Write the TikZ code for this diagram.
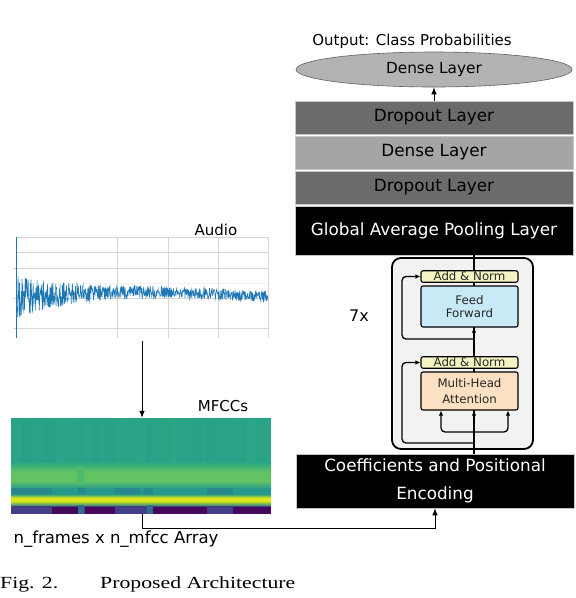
\documentclass[tikz,border=0pt]{standalone}
\usepackage{fontspec}
\setmainfont{DejaVu Sans}
\newfontfamily\tmsfont[FakeStretch=1.28]{Liberation Serif}
\usetikzlibrary{arrows.meta,shapes.geometric,calc}
\definecolor{dropc}{HTML}{6B6B6B}
\definecolor{densec}{HTML}{A5A5A5}
\definecolor{ellc}{HTML}{B3B3B3}
\definecolor{blkc}{HTML}{F2F2F2}
\definecolor{anc}{HTML}{F4F4C2}
\definecolor{ffc}{HTML}{C8E9F6}
\definecolor{mhac}{HTML}{FBE0C2}
\definecolor{gridc}{HTML}{D6D6D6}
\definecolor{sigc}{HTML}{1F77B4}
\definecolor{vA}{HTML}{46085C}
\definecolor{vB}{HTML}{433E85}
\definecolor{vC}{HTML}{2A7F8E}
\definecolor{vD}{HTML}{23988B}
\definecolor{vE}{HTML}{2BA685}
\definecolor{vF}{HTML}{3DB47A}
\definecolor{vG}{HTML}{62C363}
\definecolor{vH}{HTML}{8AD24C}
\definecolor{vI}{HTML}{C4DF24}
\definecolor{vJ}{HTML}{E2E41E}
\tikzset{
  layer/.style={rectangle, minimum width=278pt, inner sep=0pt, draw=gray!45, line width=0.5pt,
    font=\fontsize{16.8}{20}\selectfont},
  arr/.style={-{Latex[length=7pt,width=5.5pt]}, line width=0.8pt},
  tip/.style={-{Latex[length=5pt,width=4.5pt]}, line width=1.2pt},
  inbox/.style={draw=black, line width=1.1pt, rounded corners=2pt, minimum width=97pt, inner sep=0pt,
    text=black!85, align=center},
  res/.style={line width=1.3pt, rounded corners=4pt, -{Latex[length=5pt,width=4.5pt]}},
  gridl/.style={draw=gridc, line width=0.7pt},
  sig/.style={draw=sigc, line width=0.55pt},
  lbl/.style={inner sep=0pt, font=\fontsize{15}{18}\selectfont},
}
\begin{document}
\begin{tikzpicture}[x=1pt,y=-1pt,
  declare function={amp(\x)=5.5+17*exp(-(\x-17)/45); ctr(\x)=297-5*sin((\x-17)*0.72);}]
\useasboundingbox (0,0) rectangle (576,598);
\fill[white] (0,0) rectangle (576,598);

% ---------- audio plot ----------
\node[inner sep=0pt, minimum width=252pt, minimum height=101pt] (audio) at (142,287.5) {};
\foreach \yy in {237,252,268,298,328} \draw[gridl] (16,\yy) -- (268,\yy);
\draw[gridl, draw=gridc!35] (16,283) -- (268,283);
\foreach \xx in {117,168,218,268} \draw[gridl] (\xx,237) -- (\xx,338);
\foreach \yy in {268,298,328} \draw[gridl] (13,\yy) -- (16,\yy);
\pgfmathsetseed{12}
\draw[sig] plot[domain=17:268, samples=700] (\x,{ctr(\x)+amp(\x)*rand});
\draw[sig, line width=1pt] (16.5,237) -- (16.5,338);
\node[lbl] (audiolbl) at (216,230) {Audio};

% ---------- MFCC image ----------
\node[inner sep=0pt, minimum width=260pt, minimum height=96pt] (mfcc) at (141,466) {};
\fill[vE] (11,418) rectangle (271,464);
\pgfmathsetseed{5}
\foreach \i in {0,...,51} {
  \pgfmathsetmacro\pc{int(55+45*rnd)}
  \fill[vE!\pc!vD] (11+5*\i,421) rectangle (16+5*\i,463);
}
\shade[top color=vE, bottom color=vG] (11,462) rectangle (271,472);
\fill[vG] (11,472) rectangle (271,481);
\shade[top color=vG, bottom color=vD] (11,481) rectangle (271,489);
\fill[vD] (11,489) rectangle (271,494);
\foreach \a/\b in {11/52,78/85,115/140,144/153,207/233} \fill[vC!70!vD] (\a,488) rectangle (\b,494);
\shade[top color=vD, bottom color=vI] (11,494) rectangle (271,497.5);
\fill[vJ] (11,497.5) rectangle (271,501.5);
\shade[top color=vI, bottom color=vC] (11,501.5) rectangle (271,506);
\fill[vB] (11,506) rectangle (271,514);
\foreach \a/\b in {52/78,85/115,153/207,233/271} \fill[vA] (\a,507) rectangle (\b,514);
\fill[vC!70!vB] (78,505) rectangle (84,514);
\fill[vC!70!vB] (147,505) rectangle (153,514);
\fill[vF!60!vG] (77,467) rectangle (84,485);
\node[lbl] (mfcclbl) at (223,406) {MFCCs};
\node[inner sep=0pt, font=\fontsize{16.5}{18}\selectfont] (arrlbl) at (116,539) {n\_frames x n\_mfcc Array};

\coordinate (ax) at (142,0);
\draw[arr] ($(audio.south -| ax)+(0,3)$) -- (mfcc.north -| ax);

% ---------- right stack ----------
\node[lbl] (outlbl) at (412,41) {Output: Class Probabilities};
\node[ellipse, draw=gray!75!black, line width=0.6pt, fill=ellc, minimum width=276pt, minimum height=35pt,
  inner sep=0pt, font=\fontsize{15.3}{18}\selectfont] (out) at (434,69.5) {Dense Layer};
\node[layer, fill=dropc, minimum height=33pt] (drop1) at (434,117.5) {Dropout Layer};
\node[layer, fill=densec, minimum height=33pt] (dense) at (434,152.5) {Dense Layer};
\node[layer, fill=dropc, minimum height=33pt] (drop2) at (434,187.5) {Dropout Layer};
\node[layer, fill=black, text=white, minimum height=49pt] (gap) at (434,230.5) {Global Average Pooling Layer};
\node[layer, fill=black, text=white, minimum height=54pt, align=center,
  font=\fontsize{16.8}{28}\selectfont] (coef) at (435,481) {Coefficients and Positional\\Encoding};
\draw[arr] (drop1.north) -- (out.south);

% ---------- transformer block ----------
\node[draw=black, line width=1.8pt, rounded corners=9pt, fill=blkc, minimum width=141pt,
  minimum height=191pt, inner sep=0pt] (blk) at (462.5,353.5) {};
\node[font=\fontsize{16}{18}\selectfont, inner sep=0pt] (rep) at (359,316) {7x};
\coordinate (mx) at (474,0);
\coordinate (rl) at (402,0);
\coordinate (bl) at (441,0);
\coordinate (br) at (508,0);
\draw[line width=1.2pt] (coef.north -| mx) -- (gap.south -| mx);
\node[inbox, fill=anc, minimum height=11.5pt, font=\fontsize{11.8}{12}\selectfont] (an1) at (469.5,276.5) {Add \& Norm};
\node[inbox, fill=ffc, minimum height=41pt, font=\fontsize{11.8}{12.5}\selectfont] (ff) at (469.5,306.5) {Feed\\Forward};
\node[inbox, fill=anc, minimum height=11.5pt, font=\fontsize{11.8}{12}\selectfont] (an2) at (469.5,362.5) {Add \& Norm};
\node[inbox, fill=mhac, minimum height=38pt, font=\fontsize{11.8}{15.5}\selectfont] (mha) at (469.5,391) {Multi-Head\\Attention};
\draw[line width=1.2pt] (an1.north -| mx) -- (gap.south -| mx);
\draw[line width=1.2pt] (an1.south -| mx) -- (ff.north -| mx);
\draw[line width=1.2pt] (an2.south -| mx) -- (mha.north -| mx);
\draw[tip] ($(ff.south -| mx)+(0,9)$) -- (ff.south -| mx);
\draw[tip] ($(mha.south -| mx)+(0,9)$) -- (mha.south -| mx);
\coordinate (r1) at (474,339);
\coordinate (r2) at (474,443);
\coordinate (sp) at (474,432);
\draw[res] (r1) -- (r1 -| rl) |- (an1.west);
\draw[res] (r2) -- (r2 -| rl) |- (an2.west);
\draw[res] (sp) -| (mha.south -| bl);
\draw[res] (sp) -| (mha.south -| br);

% ---------- MFCC to encoding ----------
\draw[arr] (mfcc.south -| ax) -- ++(0,14) -| (coef.south);

% ---------- caption ----------
\node[anchor=base west, inner sep=0pt, font=\tmsfont\fontsize{17}{20}\selectfont] (cap1) at (0,588) {Fig. 2.};
\node[anchor=base west, inner sep=0pt, font=\tmsfont\fontsize{17}{20}\selectfont] (cap2) at (100,588) {Proposed Architecture};
\end{tikzpicture}
\end{document}
